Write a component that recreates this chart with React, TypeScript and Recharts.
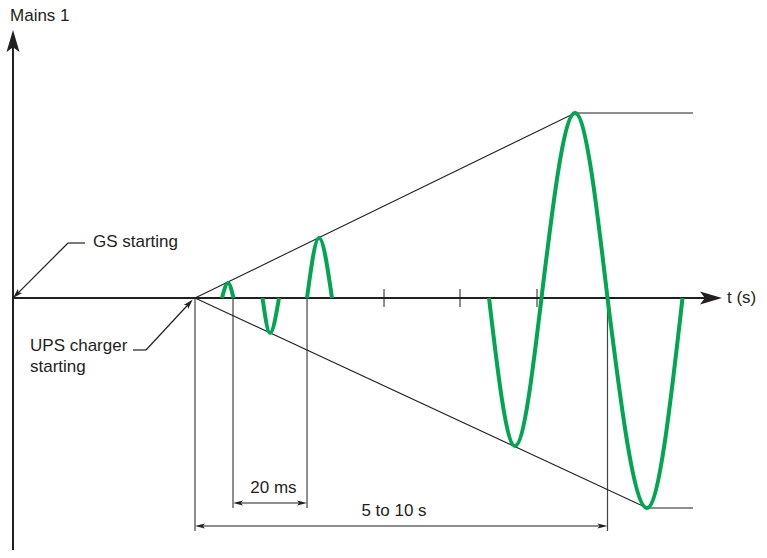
import React from "react";
import { ComposedChart, Line, XAxis, YAxis, ReferenceLine, ReferenceDot } from "recharts";

// x: 0 = vertical axis, 100 = arrow tip of the time axis (schematic units)
// y: 0 = time axis, amplitude in schematic units
const upperEnvelope = [
  { x: 25.67, y: 0 },
  { x: 79.27, y: 92.5 },
  { x: 95.91, y: 92.5 },
];
const lowerEnvelope = [
  { x: 25.67, y: 0 },
  { x: 89.42, y: -105 },
  { x: 95.91, y: -105 },
];

// half-cycles of mains 1: zero crossing, peak, zero crossing
const halfCycles = [
  [{ x: 29.48, y: 0 }, { x: 30.32, y: 7.5 }, { x: 31.1, y: 0 }],
  [{ x: 35.19, y: 0 }, { x: 36.25, y: -17.5 }, { x: 37.52, y: 0 }],
  [{ x: 41.47, y: 0 }, { x: 43.16, y: 30 }, { x: 44.99, y: 0 }],
  [{ x: 67.14, y: 0 }, { x: 70.8, y: -74 }, { x: 74.54, y: 0 }],
  [{ x: 74.54, y: 0 }, { x: 79.27, y: 92.5 }, { x: 83.85, y: 0 }],
  [{ x: 83.85, y: 0 }, { x: 89.42, y: -105 }, { x: 94.43, y: 0 }],
];

const axisTicks = [52.33, 63.05, 73.91];

const cycleStart = 31.03;
const cycleEnd = 41.47;
const chargerStart = 25.67;
const peakCrossing = 83.85;

const INK = "#231f20";
const GREEN = "#00a651";
const FONT = "'Liberation Sans', Arial, Helvetica, sans-serif";

const labels = [
  { text: "Mains 1", x: -0.42, y: 138.5, anchor: "start" },
  { text: "GS starting", x: 11.28, y: 25.5, anchor: "start" },
  { text: "UPS charger", x: 2.4, y: -26.5, anchor: "start" },
  { text: "starting", x: 2.4, y: -37, anchor: "start" },
  { text: "t (s)", x: 100.7, y: -2.5, anchor: "start" },
  { text: "20 ms", x: 36.74, y: -97.5, anchor: "middle" },
  { text: "5 to 10 s", x: 53.74, y: -109, anchor: "middle" },
];

// line with optional arrow heads, drawn in pixel space from the reference line end points
const arrowLine = (start: boolean, end: boolean, len: number, half: number) => (p: any) => {
  const x1 = Number(p.x1), y1 = Number(p.y1), x2 = Number(p.x2), y2 = Number(p.y2);
  const L = Math.hypot(x2 - x1, y2 - y1) || 1;
  const ux = (x2 - x1) / L, uy = (y2 - y1) / L;
  const head = (tx: number, ty: number, dx: number, dy: number) => {
    const bx = tx - dx * len, by = ty - dy * len;
    const nx = tx - dx * len * 0.78, ny = ty - dy * len * 0.78;
    return `${tx},${ty} ${bx - dy * half},${by + dx * half} ${nx},${ny} ${bx + dy * half},${by - dx * half}`;
  };
  const sx = start ? x1 + ux * len * 0.7 : x1;
  const sy = start ? y1 + uy * len * 0.7 : y1;
  const ex = end ? x2 - ux * len * 0.7 : x2;
  const ey = end ? y2 - uy * len * 0.7 : y2;
  return (
    <g>
      <line x1={sx} y1={sy} x2={ex} y2={ey} stroke={p.stroke} strokeWidth={p.strokeWidth} />
      {start && <polygon points={head(x1, y1, -ux, -uy)} fill={p.stroke} />}
      {end && <polygon points={head(x2, y2, ux, uy)} fill={p.stroke} />}
    </g>
  );
};

const seg = (x1: number, y1: number, x2: number, y2: number) => [
  { x: x1, y: y1 },
  { x: x2, y: y2 },
];

export default function App() {
  return (
    <div style={{ position: "absolute", left: 0, top: 0, width: 767, height: 558, background: "#fff" }}>
      <ComposedChart width={767} height={558} margin={{ top: 30, right: 45, bottom: 8, left: 13 }}>
        <XAxis type="number" dataKey="x" domain={[0, 100]} allowDataOverflow hide />
        <YAxis type="number" dataKey="y" domain={[-126, 134]} allowDataOverflow hide />

        {/* axes */}
        <ReferenceLine segment={seg(0, -126, 0, 134)} stroke={INK} strokeWidth={2} ifOverflow="visible"
          shape={arrowLine(false, true, 22, 6.5)} />
        <ReferenceLine segment={seg(0, 0, 100, 0)} stroke={INK} strokeWidth={2} ifOverflow="visible"
          shape={arrowLine(false, true, 22, 6.5)} />
        {axisTicks.map((t) => (
          <ReferenceLine key={t} segment={seg(t, -4.5, t, 4.5)} stroke={INK} strokeWidth={1} ifOverflow="visible" />
        ))}

        {/* dimension lines */}
        <ReferenceLine segment={seg(chargerStart, 0, chargerStart, -116.5)} stroke="#444" strokeWidth={1.2} ifOverflow="visible" />
        <ReferenceLine segment={seg(peakCrossing, 0, peakCrossing, -116.5)} stroke="#444" strokeWidth={1.2} ifOverflow="visible" />
        <ReferenceLine segment={seg(cycleStart, 0, cycleStart, -105)} stroke="#444" strokeWidth={1.2} ifOverflow="visible" />
        <ReferenceLine segment={seg(cycleEnd, 0, cycleEnd, -105)} stroke="#444" strokeWidth={1.2} ifOverflow="visible" />
        <ReferenceLine segment={seg(cycleStart, -102.5, cycleEnd, -102.5)} stroke={INK} strokeWidth={1.2} ifOverflow="visible"
          shape={arrowLine(true, true, 10, 2.6)} />
        <ReferenceLine segment={seg(chargerStart, -114, peakCrossing, -114)} stroke={INK} strokeWidth={1.2} ifOverflow="visible"
          shape={arrowLine(true, true, 10, 2.6)} />

        {/* leaders */}
        <ReferenceLine segment={seg(10.16, 27.5, 7.76, 27.5)} stroke={INK} strokeWidth={1.2} ifOverflow="visible" />
        <ReferenceLine segment={seg(7.76, 27.5, 0, 0)} stroke={INK} strokeWidth={1.2} ifOverflow="visible"
          shape={arrowLine(false, true, 10, 3)} />
        <ReferenceLine segment={seg(16.93, -26, 18.76, -26)} stroke={INK} strokeWidth={1.2} ifOverflow="visible" />
        <ReferenceLine segment={seg(18.76, -26, 25.35, -0.8)} stroke={INK} strokeWidth={1.2} ifOverflow="visible"
          shape={arrowLine(false, true, 10, 3)} />

        {/* envelopes */}
        <Line data={upperEnvelope} dataKey="y" type="linear" stroke={INK} strokeWidth={1.1} dot={false} isAnimationActive={false} />
        <Line data={lowerEnvelope} dataKey="y" type="linear" stroke={INK} strokeWidth={1.1} dot={false} isAnimationActive={false} />

        {/* mains 1 wave */}
        {halfCycles.map((d, i) => (
          <Line key={i} data={d} dataKey="y" type="monotone" stroke={GREEN} strokeWidth={4}
            dot={false} isAnimationActive={false} />
        ))}

        {labels.map((l) => (
          <ReferenceDot key={l.text + l.y} x={l.x} y={l.y} r={0} ifOverflow="visible"
            shape={(p: any) => (
              <text x={p.cx} y={p.cy} textAnchor={l.anchor} fontFamily={FONT} fontSize={17} fill={INK}>
                {l.text}
              </text>
            )} />
        ))}
      </ComposedChart>
    </div>
  );
}
